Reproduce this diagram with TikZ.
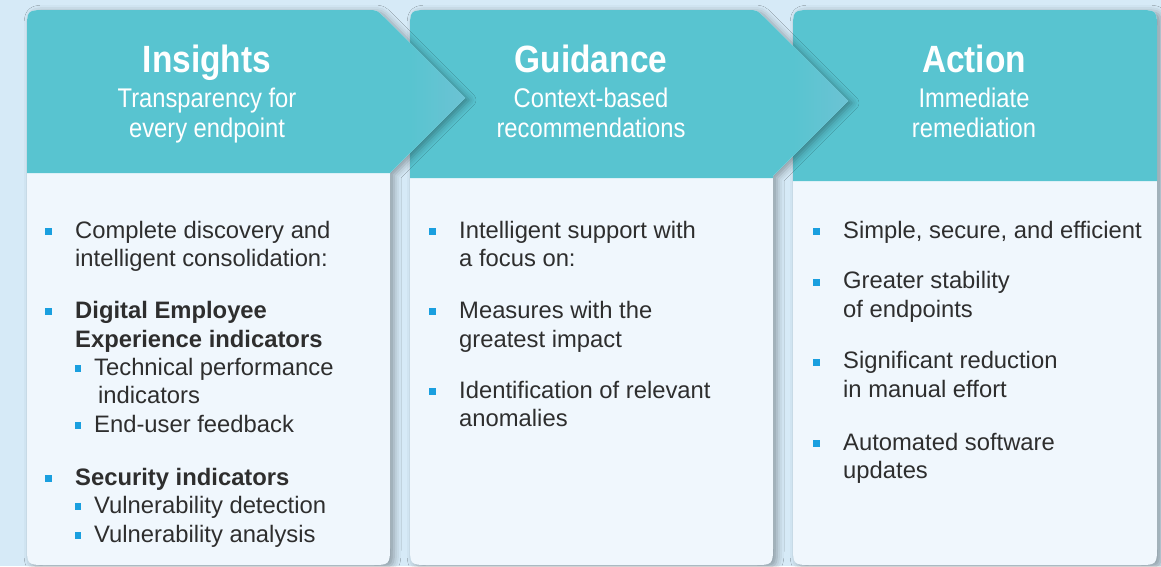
\documentclass[tikz,border=0pt]{standalone}
\usepackage{fontspec}
\setmainfont{Liberation Sans}
\newfontfamily\condfont[FakeStretch=0.88]{Liberation Sans}
\usetikzlibrary{shadows.blur}
\definecolor{bgblue}{HTML}{D6EAF7}
\definecolor{headteal}{HTML}{58C4D0}
\definecolor{tiplight}{HTML}{6CC3D4}
\definecolor{bodyfill}{HTML}{F0F7FD}
\definecolor{bulblue}{HTML}{1A9FDF}
\definecolor{txtdark}{HTML}{2E2E2E}
\tikzset{
  cardshape/.style={fill=bodyfill, blur shadow={shadow xshift=4pt, shadow yshift=-2pt, shadow blur radius=7pt, shadow opacity=35}},
  headshape/.style={fill=headteal},
  titletext/.style={text=white, inner sep=0pt, anchor=base, font=\condfont\bfseries\fontsize{38}{40}\selectfont},
  subtext/.style={text=white, inner sep=0pt, anchor=base, font=\condfont\fontsize{27}{30}\selectfont},
  bodytext/.style={text=txtdark, inner sep=0pt, anchor=base west, font=\fontsize{23.8}{28}\selectfont},
  boldtext/.style={bodytext, font=\bfseries\fontsize{23.8}{28}\selectfont},
  bulletsq/.style={fill=bulblue, inner sep=0pt, minimum size=7pt, draw=none},
  subbulletsq/.style={bulletsq, minimum size=6.5pt}
}
\begin{document}
\begin{tikzpicture}[x=1pt, y=-1pt]
\useasboundingbox (0,0) rectangle (1161,566);
\fill[bgblue] (0,0) rectangle (1161,566);

% ---------- Card 3 ----------
\fill[cardshape] (793,545) -- (793,30) .. controls (793,10) .. (813,10) -- (1137,10) .. controls (1157,10) .. (1157,30) -- (1157,545) .. controls (1157,565) .. (1137,565) -- (813,565) .. controls (793,565) .. (793,545) -- cycle;
\fill[headshape] (793,181) -- (793,30) .. controls (793,10) .. (813,10) -- (1137,10) .. controls (1157,10) .. (1157,30) -- (1157,181) -- cycle;

% ---------- Card 2 ----------
\fill[cardshape] (410,545) -- (410,30) .. controls (410,10) .. (430,10) -- (747,10) .. controls (757,10) .. (764,17) -- (848,101) -- (773,176) -- (773,545) .. controls (773,565) .. (753,565) -- (430,565) .. controls (410,565) .. (410,545) -- cycle;
\fill[headshape] (410,178) -- (410,30) .. controls (410,10) .. (430,10) -- (747,10) .. controls (757,10) .. (764,17) -- (848,101) -- (773,176) -- (773,178) -- cycle;
\shade[left color=headteal, right color=tiplight] (793,46) -- (848,101) -- (793,156) -- cycle;

% ---------- Card 1 ----------
\fill[cardshape] (27,545) -- (27,30) .. controls (27,10) .. (47,10) -- (367,10) .. controls (377,10) .. (384,17) -- (465,98) -- (390,173) -- (390,545) .. controls (390,565) .. (370,565) -- (47,565) .. controls (27,565) .. (27,545) -- cycle;
\fill[headshape] (27,173) -- (27,30) .. controls (27,10) .. (47,10) -- (367,10) .. controls (377,10) .. (384,17) -- (465,98) -- (390,173) -- cycle;
\shade[left color=headteal, right color=tiplight] (410,43) -- (465,98) -- (410,153) -- cycle;

% ---------- Headers ----------
\node[titletext] (h1) at (207,72) {Insights};
\node[subtext] (s1a) at (207,107) {Transparency for};
\node[subtext] (s1b) at (207,137) {every endpoint};

\node[titletext] (h2) at (591,72) {Guidance};
\node[subtext] (s2a) at (591,107) {Context-based};
\node[subtext] (s2b) at (591,137) {recommendations};

\node[titletext] (h3) at (974,72) {Action};
\node[subtext] (s3a) at (974,107) {Immediate};
\node[subtext] (s3b) at (974,137) {remediation};

% ---------- Card 1 body ----------
\node[bulletsq] (b11) at (48.5,231.5) {};
\node[bodytext] (t11a) at (75,238) {Complete discovery and};
\node[bodytext] (t11b) at (75,266) {intelligent consolidation:};

\node[bulletsq] (b12) at (48.5,311.5) {};
\node[boldtext] (t12a) at (75,318) {Digital Employee};
\node[boldtext] (t12b) at (75,347) {Experience indicators};

\node[subbulletsq] (sb121) at (78,368.5) {};
\node[bodytext] (t121a) at (94,375) {Technical performance};
\node[bodytext] (t121b) at (98,403) {indicators};

\node[subbulletsq] (sb122) at (78,425.5) {};
\node[bodytext] (t122) at (94,432) {End-user feedback};

\node[bulletsq] (b13) at (48.5,478.5) {};
\node[boldtext] (t13) at (75,485) {Security indicators};

\node[subbulletsq] (sb131) at (78,506.5) {};
\node[bodytext] (t131) at (94,513) {Vulnerability detection};

\node[subbulletsq] (sb132) at (78,535.5) {};
\node[bodytext] (t132) at (94,542) {Vulnerability analysis};

% ---------- Card 2 body ----------
\node[bulletsq] (b21) at (432.5,231.5) {};
\node[bodytext] (t21a) at (459,238) {Intelligent support with};
\node[bodytext] (t21b) at (459,266) {a focus on:};

\node[bulletsq] (b22) at (432.5,311.5) {};
\node[bodytext] (t22a) at (459,318) {Measures with the};
\node[bodytext] (t22b) at (459,347) {greatest impact};

\node[bulletsq] (b23) at (432.5,391.5) {};
\node[bodytext] (t23a) at (459,398) {Identification of relevant};
\node[bodytext] (t23b) at (459,426) {anomalies};

% ---------- Card 3 body ----------
\node[bulletsq] (b31) at (816.5,231.5) {};
\node[bodytext] (t31) at (843,238) {Simple, secure, and efficient};

\node[bulletsq] (b32) at (816.5,282.5) {};
\node[bodytext] (t32a) at (843,288) {Greater stability};
\node[bodytext] (t32b) at (843,317) {of endpoints};

\node[bulletsq] (b33) at (816.5,362.5) {};
\node[bodytext] (t33a) at (843,368) {Significant reduction};
\node[bodytext] (t33b) at (843,397) {in manual effort};

\node[bulletsq] (b34) at (816.5,443.5) {};
\node[bodytext] (t34a) at (843,450) {Automated software};
\node[bodytext] (t34b) at (843,478) {updates};
\end{tikzpicture}
\end{document}
